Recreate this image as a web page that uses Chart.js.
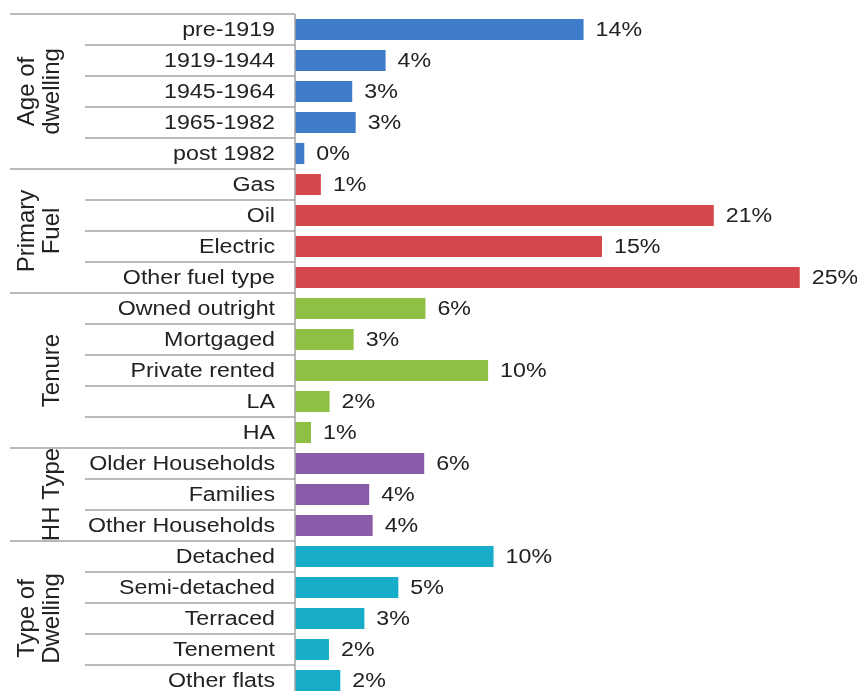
<!DOCTYPE html>
<html>
<head>
<meta charset="utf-8">
<script src="https://cdn.jsdelivr.net/npm/chart.js@4"></script>
<style>
  html, body { margin: 0; padding: 0; background: #ffffff; overflow: hidden; }
  #wrap { width: 857px; height: 691px; overflow: hidden; }
  canvas { display: block; }
</style>
</head>
<body>
<div id="wrap"><canvas id="c" width="857" height="697"></canvas></div>
<script>
// ---- data ----
const groupNames = [["Age of", "dwelling"], ["Primary", "Fuel"], ["Tenure"], ["HH Type"], ["Type of", "Dwelling"]];
const groupSizes = [5, 4, 5, 3, 5];
const groupColors = ["#3f7dca", "#d5474a", "#8dc043", "#8a5ba8", "#17adc9"];
const categories = [
  "pre-1919", "1919-1944", "1945-1964", "1965-1982", "post 1982",
  "Gas", "Oil", "Electric", "Other fuel type",
  "Owned outright", "Mortgaged", "Private rented", "LA", "HA",
  "Older Households", "Families", "Other Households",
  "Detached", "Semi-detached", "Terraced", "Tenement", "Other flats"
];
const values = [
  14.27, 4.48, 2.83, 3.00, 0.46,
  1.28, 20.71, 15.18, 24.96,
  6.45, 2.90, 9.55, 1.71, 0.79,
  6.39, 3.67, 3.84,
  9.82, 5.11, 3.43, 1.68, 2.24
];

// per-bar colour from group
const barColors = [];
groupSizes.forEach((n, g) => { for (let i = 0; i < n; i++) barColors.push(groupColors[g]); });

const TEXT = "#222222";
const LINE = "#a3a3a3";
const FONT = "20px 'Liberation Sans', Arial, sans-serif";
const GFONT = "24px 'Liberation Sans', Arial, sans-serif";
const SX = 1.16;

function stretchText(ctx, text, x, y, align) {
  ctx.save();
  ctx.translate(x, y);
  ctx.scale(SX, 1);
  ctx.textAlign = align;
  ctx.textBaseline = "middle";
  ctx.fillText(text, 0, 0);
  ctx.restore();
}

const decor = {
  id: "decor",
  afterDatasetsDraw(chart) {
    const ctx = chart.ctx;
    const ys = chart.scales.y, xs = chart.scales.x;
    const area = chart.chartArea;
    const half = (ys.getPixelForValue(1) - ys.getPixelForValue(0)) / 2;
    ctx.save();
    ctx.strokeStyle = LINE;
    ctx.lineWidth = 1.5;
    // vertical axis line
    ctx.beginPath();
    ctx.moveTo(area.left, area.top);
    ctx.lineTo(area.left, area.bottom);
    ctx.stroke();
    // top border
    ctx.beginPath();
    ctx.moveTo(10, area.top);
    ctx.lineTo(area.left, area.top);
    ctx.stroke();
    // separators
    let idx = 0;
    groupSizes.forEach((n, g) => {
      for (let i = 0; i < n; i++) {
        const yb = ys.getPixelForValue(idx) + half;
        const last = (i === n - 1);
        ctx.beginPath();
        ctx.moveTo(last ? 10 : 85, yb);
        ctx.lineTo(area.left, yb);
        ctx.stroke();
        idx++;
      }
    });
    // category labels
    ctx.fillStyle = TEXT;
    ctx.font = FONT;
    categories.forEach((c, i) => {
      stretchText(ctx, c, 275, ys.getPixelForValue(i) + 0.5, "right");
    });
    // value labels
    values.forEach((v, i) => {
      const xe = xs.getPixelForValue(v);
      stretchText(ctx, Math.round(v) + "%", xe + 12, ys.getPixelForValue(i) + 1, "left");
    });
    // group labels
    ctx.font = GFONT;
    let start = 0;
    groupSizes.forEach((n, g) => {
      const y0 = ys.getPixelForValue(start) - half;
      const y1 = ys.getPixelForValue(start + n - 1) + half;
      const cy = (y0 + y1) / 2;
      const lines = groupNames[g];
      ctx.save();
      const cx = lines.length === 2 ? 39.5 : 52;
      ctx.translate(cx, cy);
      ctx.rotate(-Math.PI / 2);
      ctx.textAlign = "center";
      ctx.textBaseline = "middle";
      lines.forEach((t, k) => {
        const off = lines.length === 2 ? (k === 0 ? -12.5 : 12.5) : 0;
        ctx.fillText(t, 0, off);
      });
      ctx.restore();
      start += n;
    });
    ctx.restore();
  }
};

new Chart(document.getElementById("c"), {
  type: "bar",
  data: {
    labels: categories,
    datasets: [{
      data: values,
      backgroundColor: barColors,
      borderWidth: 0,
      barPercentage: 0.68,
      categoryPercentage: 1.0
    }]
  },
  options: {
    indexAxis: "y",
    responsive: false,
    animation: false,
    devicePixelRatio: 1,
    layout: { padding: { left: 295, right: 16, top: 14, bottom: 1 } },
    plugins: { legend: { display: false }, tooltip: { enabled: false } },
    scales: {
      x: { display: false, min: 0, max: 27 },
      y: { display: false, offset: true }
    }
  },
  plugins: [decor]
});
</script>
</body>
</html>
